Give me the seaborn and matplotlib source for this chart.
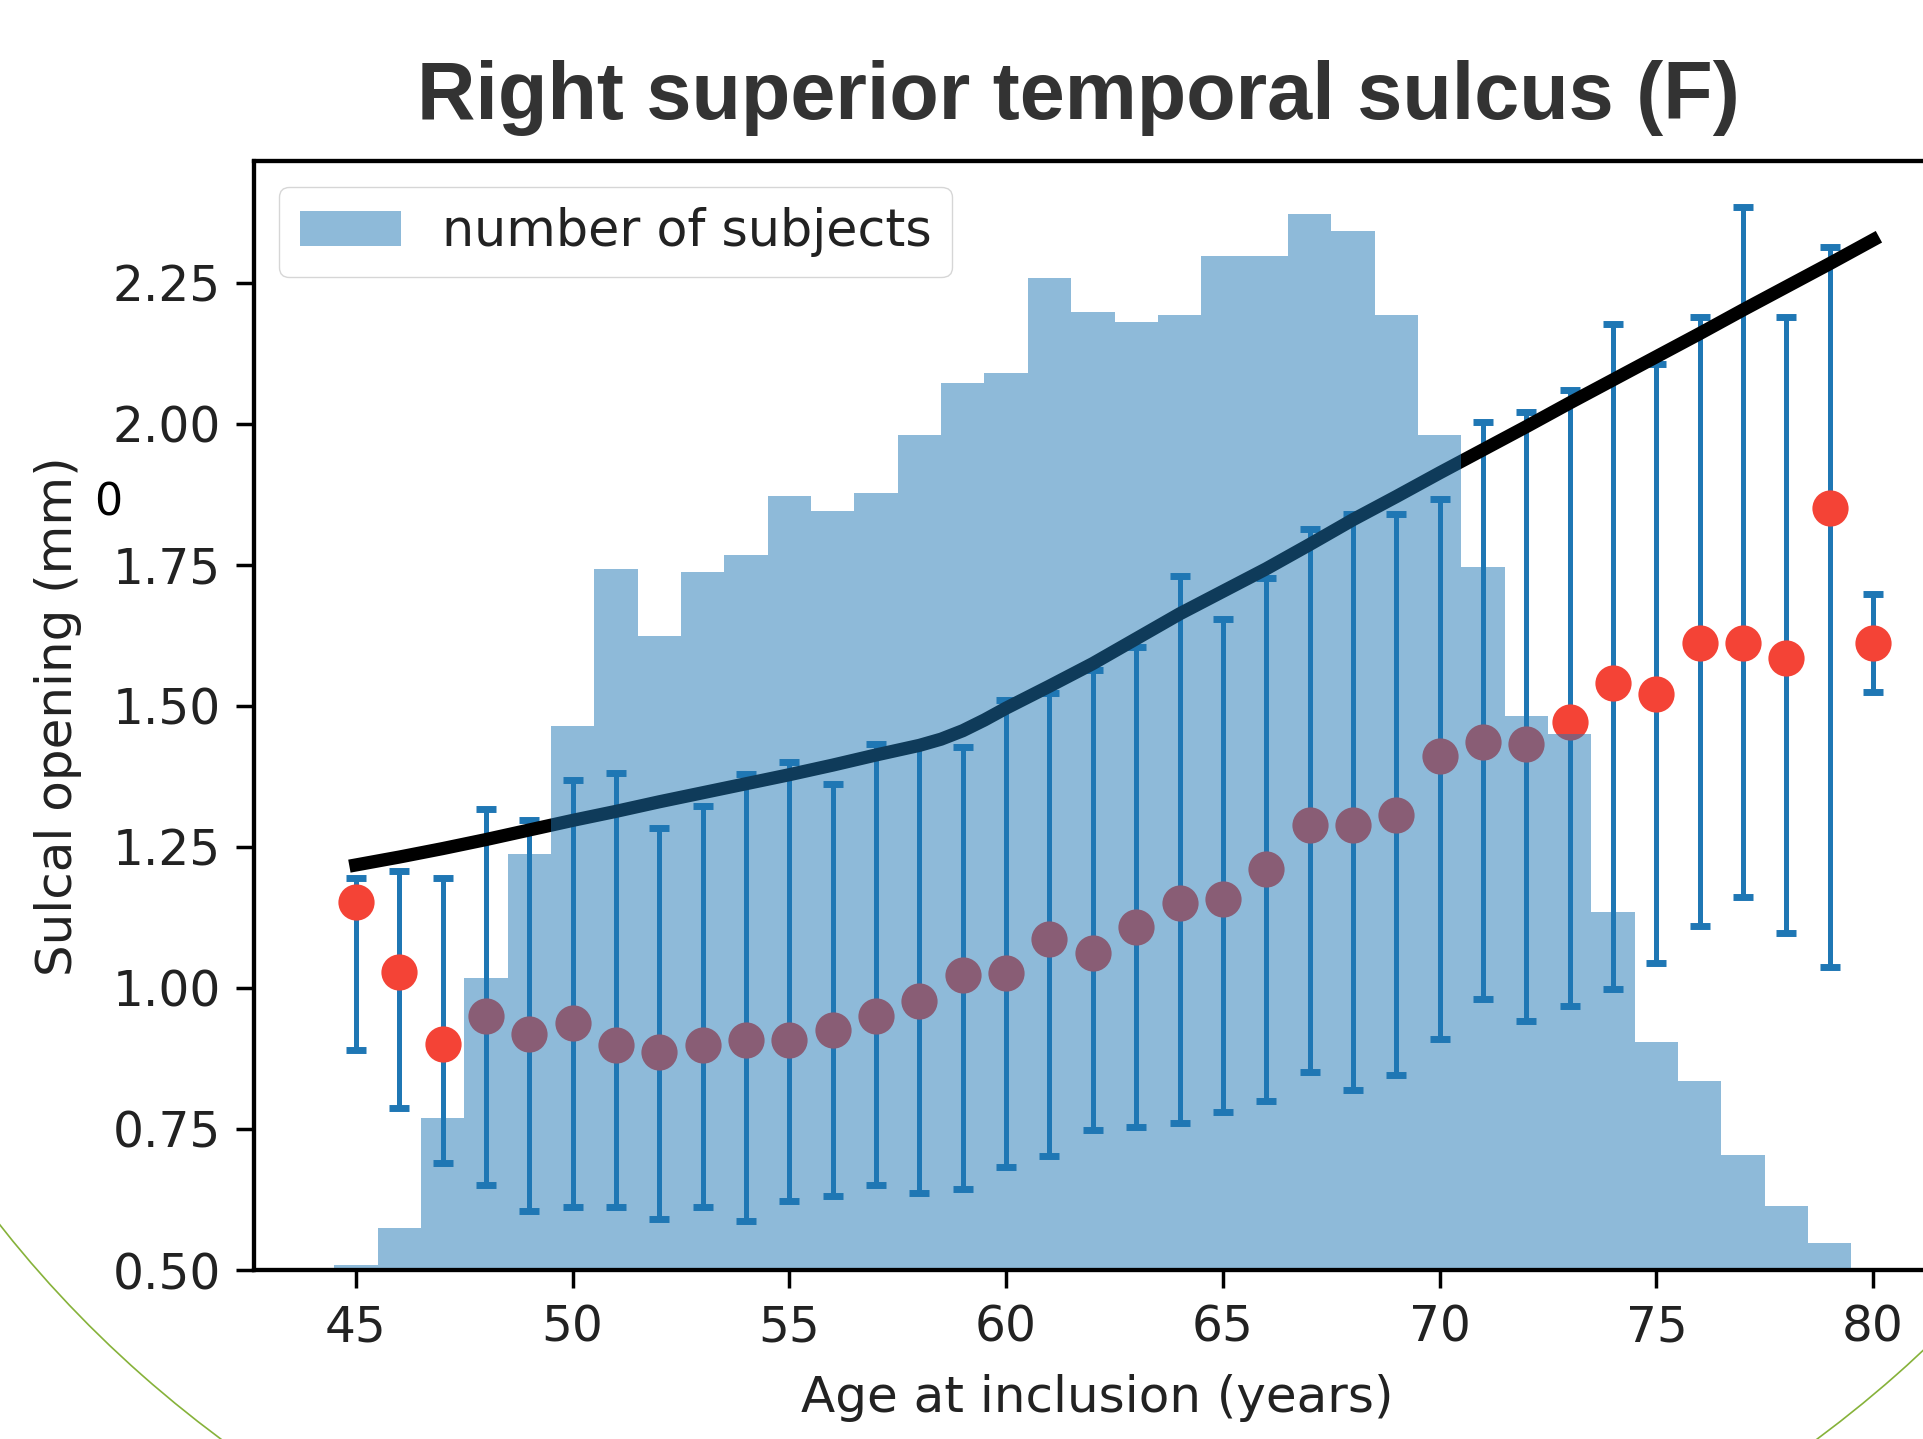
import numpy as np
import pandas as pd
import matplotlib
matplotlib.use("Agg")
import matplotlib.pyplot as plt
from matplotlib.patches import Ellipse
import seaborn as sns

# mean sulcal opening per age (dots) and the bounds of the error bars
ages = list(range(45, 81))
mean_open = [1.152, 1.029, 0.901, 0.951, 0.918, 0.938, 0.899, 0.887, 0.898, 0.907,
             0.908, 0.925, 0.951, 0.977, 1.023, 1.027, 1.086, 1.062, 1.108, 1.151,
             1.158, 1.210, 1.288, 1.288, 1.307, 1.412, 1.436, 1.432, 1.471, 1.540,
             1.521, 1.611, 1.611, 1.585, 1.850, 1.611]
upper = [1.195, 1.207, 1.194, 1.317, 1.298, 1.369, 1.381, 1.284, 1.323, 1.380,
         1.400, 1.361, 1.433, 1.430, 1.427, 1.511, 1.523, 1.564, 1.605, 1.730,
         1.654, 1.727, 1.814, 1.841, 1.841, 1.867, 2.003, 2.021, 2.060, 2.177,
         2.106, 2.189, 2.384, 2.189, 2.313, 1.699]
lower = [0.890, 0.787, 0.690, 0.650, 0.605, 0.612, 0.612, 0.591, 0.612, 0.586,
         0.623, 0.631, 0.650, 0.636, 0.643, 0.682, 0.702, 0.748, 0.753, 0.760,
         0.780, 0.800, 0.851, 0.819, 0.845, 0.909, 0.980, 0.941, 0.968, 0.999,
         1.044, 1.110, 1.161, 1.097, 1.038, 1.524]

# fitted trend (black curve)
fit_age = [45, 46, 47, 48, 49, 50, 51, 52, 53, 54, 55, 56, 57, 58, 58.5, 59, 59.5, 60,
           61, 62, 63, 64, 65, 66, 67, 68, 69, 70, 71, 72, 73, 74, 75, 76, 77, 78, 79, 80]
fit_val = [1.218, 1.232, 1.247, 1.263, 1.280, 1.297, 1.313, 1.330, 1.346, 1.362, 1.378,
           1.395, 1.413, 1.430, 1.441, 1.456, 1.475, 1.496, 1.535, 1.575, 1.619, 1.663,
           1.703, 1.743, 1.786, 1.830, 1.871, 1.913, 1.954, 1.995, 2.037, 2.078, 2.119,
           2.160, 2.202, 2.243, 2.284, 2.326]

# number of subjects per year of age (histogram, arbitrary scale)
hist_age = list(range(45, 80))
hist_count = [2, 17, 62, 119, 170, 222, 286, 259, 285, 292, 316, 310, 317, 341, 362,
              366, 405, 391, 387, 390, 414, 414, 431, 424, 390, 341, 287, 226, 219,
              146, 93, 77, 47, 26, 11]

ytick_vals = [0.50, 0.75, 1.00, 1.25, 1.50, 1.75, 2.00, 2.25]

sns.set_style("ticks")
plt.rcParams['font.family'] = ['DejaVu Sans']

fig = plt.figure(figsize=(19.23, 14.39), dpi=100)
ax = fig.add_axes([254 / 1923, 1 - 1270 / 1439, (1975 - 254) / 1923, (1270 - 161.5) / 1439])

mean_arr = np.array(mean_open)
yerr = [mean_arr - np.array(lower), np.array(upper) - mean_arr]
ax.errorbar(ages, mean_open, yerr=yerr, fmt='none', ecolor='#1f77b4',
            elinewidth=3.6, capsize=7.5, capthick=5, zorder=1)
sns.lineplot(x=fit_age, y=fit_val, ax=ax, color='black', lw=9.5,
             solid_capstyle='projecting', zorder=2)
sns.scatterplot(x=ages, y=mean_open, ax=ax, color='#f44336', s=680,
                linewidth=0, zorder=3)

# histogram on a twin axis, drawn on top
ax2 = ax.twinx()
hist_df = pd.DataFrame({'age': hist_age, 'count': hist_count})
sns.histplot(data=hist_df, x='age', weights='count', binwidth=1,
             binrange=(hist_age[0] - 0.5, hist_age[-1] + 0.5), element='step',
             color='#1f77b4', alpha=0.5, linewidth=0, ax=ax2,
             label='number of subjects')
ax2.set_ylim(0, 452.5)
ax2.set_yticks([])
ax2.set_ylabel('')

ax.set_xlim(42.65, 82.35)
ax.set_ylim(0.5, 2.465)
ax.set_xticks(range(45, 81, 5))
ax.set_yticks(ytick_vals)
ax.set_yticklabels([f"{v:.2f}" for v in ytick_vals])

for a in (ax, ax2):
    for sp in a.spines.values():
        sp.set_color('black')
        sp.set_linewidth(3)
ax.tick_params(axis='both', length=13, width=2.5, labelsize=35, pad=11,
               direction='out', color='black', labelcolor='#222222')

ax.set_xlabel('Age at inclusion (years)', fontsize=36, color='#222222')
ax.set_ylabel('Sulcal opening (mm)', fontsize=36, color='#222222')
ax.xaxis.set_label_coords(0.49, -0.094)
ax.yaxis.set_label_coords(-0.1, 0.5)

leg = ax2.legend(loc='upper left', fontsize=36.5, frameon=True, fancybox=True,
                 framealpha=0.8, edgecolor='0.8')
for t in leg.get_texts():
    t.set_color('#222222')

fig.text(0.561, 0.9173, 'Right superior temporal sulcus (F)', ha='center',
         va='baseline', fontsize=58.3, fontweight='bold',
         family='Liberation Sans', color='#333333')

# stray label and slide decoration
fig.text(0.0562, 0.6505, '0', ha='center', va='center', fontsize=32, color='black')
fig.add_artist(Ellipse((10.19, 8.39), 24.81, 21.92, transform=fig.dpi_scale_trans,
                       fill=False, edgecolor='#86b23a', lw=1.2))

fig.savefig('out.png', dpi=100)
